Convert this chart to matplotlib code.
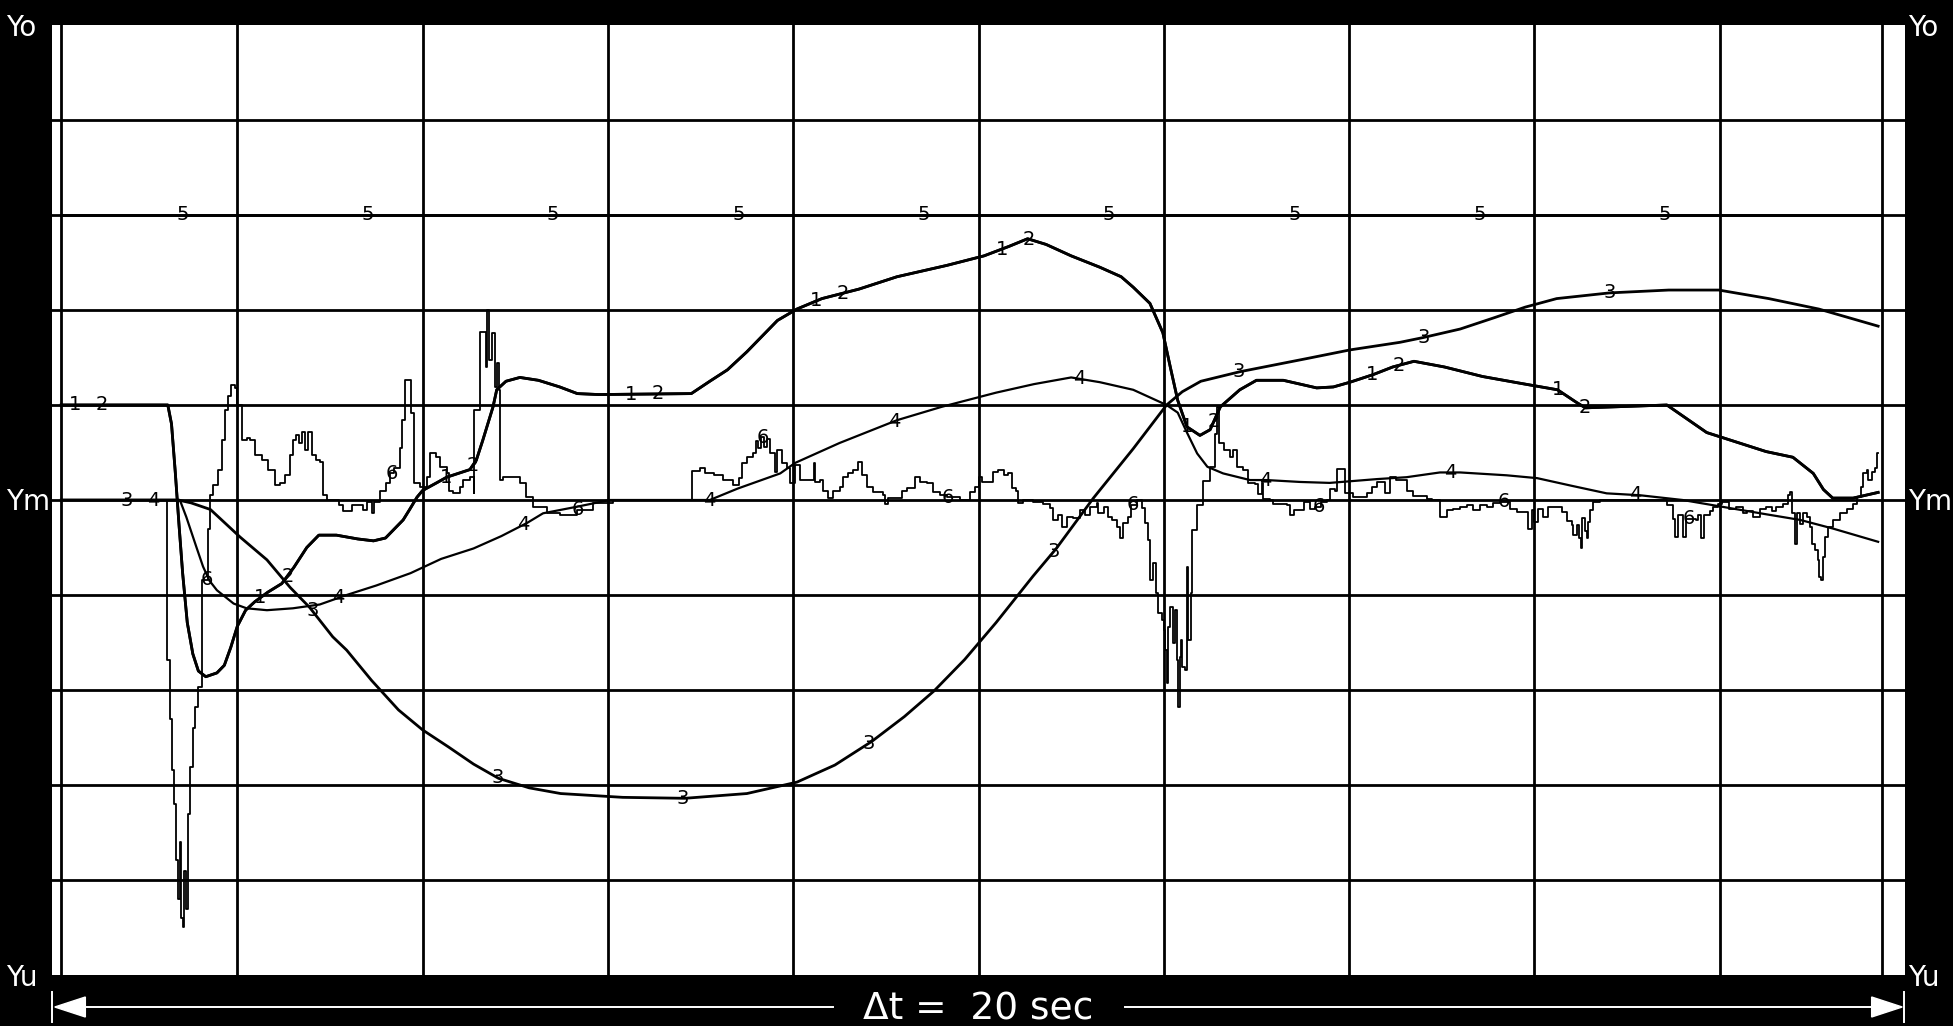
import matplotlib.pyplot as plt
import numpy as np

# time axis in seconds (0..20), values in screen divisions (Ym = 0, Yo = +5, Yu = -5)

# curves 1 and 2 lie on top of each other
t12 = [0.10, 1.25, 1.29, 1.33, 1.37, 1.41, 1.46, 1.52, 1.58, 1.66, 1.78, 1.86, 1.93,
       2.00, 2.09, 2.19, 2.33, 2.48, 2.61, 2.75, 2.88, 3.07, 3.30, 3.47, 3.60, 3.79,
       3.86, 3.94, 4.00, 4.15, 4.26, 4.51, 4.58, 4.65, 4.76, 4.80, 4.90, 5.05, 5.25,
       5.48, 5.67, 5.90, 6.90, 7.10, 7.29, 7.50, 7.83, 8.04, 8.31, 8.71, 9.12, 9.66,
       10.06, 10.33, 10.53, 10.73, 11.00, 11.31, 11.54, 11.67, 11.85, 11.99, 12.07,
       12.15, 12.25, 12.39, 12.50, 12.61, 12.82, 13.00, 13.29, 13.65, 13.83, 14.01,
       14.26, 14.47, 14.70, 15.03, 15.44, 15.84, 16.25, 16.45, 16.55, 17.43, 17.86,
       18.02, 18.50, 18.79, 19.01, 19.12, 19.22, 19.44, 19.71]
y12 = [1.00, 1.00, 0.80, 0.30, -0.25, -0.77, -1.29, -1.62, -1.80, -1.86, -1.82, -1.74, -1.55,
       -1.33, -1.16, -1.07, -0.97, -0.88, -0.71, -0.50, -0.37, -0.37, -0.41, -0.43, -0.40, -0.21,
       -0.10, 0.03, 0.10, 0.18, 0.24, 0.32, 0.42, 0.63, 0.98, 1.16, 1.25, 1.29, 1.26,
       1.19, 1.12, 1.11, 1.12, 1.25, 1.37, 1.56, 1.89, 2.01, 2.12, 2.22, 2.35, 2.47,
       2.57, 2.67, 2.75, 2.69, 2.57, 2.45, 2.35, 2.24, 2.07, 1.76, 1.40,
       1.05, 0.77, 0.68, 0.74, 0.98, 1.16, 1.26, 1.26, 1.18, 1.19, 1.24,
       1.32, 1.40, 1.46, 1.40, 1.30, 1.23, 1.16, 1.03, 0.97, 1.00, 0.71,
       0.66, 0.51, 0.45, 0.28, 0.11, 0.02, 0.02, 0.08]

t3 = [0.10, 1.36, 1.50, 1.71, 2.03, 2.32, 2.57, 2.78, 3.03, 3.18, 3.45, 3.74, 4.00, 4.28,
      4.55, 4.82, 5.15, 5.49, 6.16, 6.83, 7.50, 8.04, 8.45, 8.85, 9.20, 9.52, 9.85, 10.19,
      10.59, 10.84, 11.24, 11.67, 12.03, 12.20, 12.40, 12.82, 13.55, 14.01, 14.55, 14.80,
      15.20, 15.57, 15.90, 16.24, 16.81, 17.45, 17.99, 18.53, 19.07, 19.71]
y3 = [0.00, 0.00, -0.03, -0.10, -0.39, -0.63, -0.92, -1.13, -1.44, -1.58, -1.90, -2.21, -2.42, -2.60,
      -2.78, -2.93, -3.03, -3.09, -3.13, -3.14, -3.09, -2.97, -2.79, -2.54, -2.28, -2.01, -1.68, -1.29,
      -0.80, -0.51, 0.02, 0.54, 1.00, 1.14, 1.25, 1.35, 1.49, 1.58, 1.66, 1.71,
      1.80, 1.92, 2.03, 2.12, 2.18, 2.21, 2.21, 2.12, 2.01, 1.83]

t4 = [0.10, 1.38, 1.45, 1.56, 1.63, 1.70, 1.78, 1.96, 2.10, 2.32, 2.60, 2.89, 3.18, 3.50,
      3.87, 4.20, 4.55, 4.85, 5.13, 5.30, 5.67, 6.02, 7.10, 7.40, 7.86, 8.02, 8.50, 9.12,
      9.60, 10.19, 10.60, 11.00, 11.31, 11.67, 12.03, 12.15, 12.25, 12.36, 12.47, 12.64,
      12.93, 13.11, 13.47, 13.79, 14.30, 14.62, 14.98, 15.20, 15.70, 16.03, 16.40, 16.78,
      17.14, 17.60, 18.02, 18.50, 18.87, 19.22, 19.71]
y4 = [0.00, 0.00, -0.18, -0.50, -0.70, -0.85, -0.95, -1.09, -1.14, -1.16, -1.14, -1.10, -1.00, -0.90,
      -0.77, -0.62, -0.51, -0.38, -0.24, -0.14, -0.07, 0.00, 0.00, 0.12, 0.28, 0.39, 0.60, 0.84,
      0.98, 1.13, 1.22, 1.29, 1.24, 1.16, 1.00, 0.92, 0.71, 0.49, 0.35, 0.28,
      0.21, 0.21, 0.19, 0.18, 0.22, 0.24, 0.29, 0.29, 0.26, 0.23, 0.15, 0.07,
      0.05, 0.00, -0.07, -0.15, -0.21, -0.30, -0.44]

t5 = [0.10, 19.75]
y5 = [3.00, 3.00]

# noisy channel 6, sample-and-hold values
t6 = [0.10, 1.24, 1.27, 1.30, 1.32, 1.34, 1.36, 1.38, 1.39, 1.41, 1.43, 1.45, 1.47, 1.49,
      1.52, 1.54, 1.58, 1.62, 1.68, 1.71, 1.74, 1.79, 1.83, 1.87, 1.90, 1.93, 1.98, 2.00,
      2.05, 2.10, 2.14, 2.19, 2.27, 2.33, 2.41, 2.46, 2.51, 2.57, 2.60, 2.63, 2.67, 2.70,
      2.73, 2.76, 2.81, 2.85, 2.89, 2.92, 2.97, 3.10, 3.14, 3.24, 3.36, 3.40, 3.45, 3.48,
      3.54, 3.60, 3.65, 3.69, 3.76, 3.78, 3.81, 3.87, 3.91, 3.97, 4.05, 4.08, 4.15, 4.19,
      4.26, 4.28, 4.33, 4.40, 4.44, 4.51, 4.55, 4.56, 4.62, 4.68, 4.70, 4.72, 4.75, 4.78,
      4.80, 4.82, 4.84, 4.87, 4.94, 5.05, 5.12, 5.19, 5.34, 5.48, 5.67, 5.84, 6.06, 6.91,
      6.99, 7.05, 7.14, 7.24, 7.35, 7.41, 7.45, 7.50, 7.57, 7.60, 7.62, 7.65, 7.68, 7.72,
      7.75, 7.80, 7.82, 7.88, 7.93, 7.97, 8.02, 8.07, 8.15, 8.22, 8.24, 8.29, 8.32, 8.38,
      8.43, 8.50, 8.54, 8.59, 8.65, 8.70, 8.74, 8.80, 8.86, 8.97, 8.99, 9.02, 9.17, 9.23,
      9.32, 9.37, 9.44, 9.51, 9.58, 9.66, 9.80, 9.91, 9.96, 10.00, 10.04, 10.16, 10.21,
      10.27, 10.32, 10.36, 10.41, 10.43, 10.48, 10.59, 10.70, 10.77, 10.80, 10.86, 10.90,
      10.95, 11.02, 11.10, 11.15, 11.20, 11.28, 11.29, 11.35, 11.40, 11.44, 11.49, 11.53,
      11.56, 11.61, 11.65, 11.71, 11.76, 11.80, 11.83, 11.85, 11.88, 11.92, 11.94, 11.98,
      12.00, 12.01, 12.03, 12.05, 12.07, 12.10, 12.12, 12.14, 12.15, 12.17, 12.19, 12.20,
      12.23, 12.25, 12.26, 12.29, 12.30, 12.36, 12.42, 12.50, 12.55, 12.57, 12.60, 12.65,
      12.71, 12.75, 12.79, 12.86, 12.91, 12.98, 13.02, 13.06, 13.07, 13.15, 13.18, 13.33,
      13.36, 13.40, 13.51, 13.58, 13.63, 13.70, 13.76, 13.79, 13.85, 13.87, 13.96, 14.04,
      14.19, 14.25, 14.30, 14.39, 14.44, 14.51, 14.62, 14.69, 14.84, 14.89, 14.98, 15.06,
      15.12, 15.20, 15.27, 15.34, 15.41, 15.49, 15.55, 15.63, 15.74, 15.81, 15.90, 15.93,
      15.97, 16.00, 16.04, 16.09, 16.15, 16.30, 16.35, 16.41, 16.42, 16.46, 16.48, 16.50,
      16.51, 16.55, 16.57, 16.58, 16.60, 16.63, 16.71, 17.43, 17.50, 17.52, 17.55, 17.60,
      17.64, 17.74, 17.77, 17.80, 17.83, 17.90, 17.93, 17.98, 18.03, 18.10, 18.18, 18.25,
      18.30, 18.36, 18.43, 18.50, 18.56, 18.61, 18.68, 18.74, 18.76, 18.78, 18.81, 18.83,
      18.87, 18.90, 18.94, 18.98, 19.00, 19.03, 19.06, 19.07, 19.09, 19.11, 19.12, 19.14,
      19.17, 19.22, 19.30, 19.37, 19.44, 19.48, 19.53, 19.55, 19.59, 19.60, 19.64, 19.68,
      19.70, 19.71]
y6 = [0.00, -1.68, -2.30, -2.84, -3.20, -3.79, -4.20, -3.60, -4.40, -4.49, -3.90, -4.30, -3.30, -2.81,
      -2.40, -2.18, -1.97, -0.84, -0.30, 0.05, 0.16, 0.32, 0.63, 0.95, 1.10, 1.21, 1.18, 1.00,
      0.63, 0.65, 0.63, 0.47, 0.42, 0.32, 0.16, 0.18, 0.26, 0.47, 0.63, 0.68, 0.60, 0.72,
      0.53, 0.72, 0.47, 0.42, 0.40, 0.05, 0.00, -0.05, -0.12, -0.05, -0.10, -0.02, -0.14, -0.02,
      0.10, 0.18, 0.28, 0.34, 0.55, 0.84, 1.26, 0.92, 0.18, 0.14, 0.24, 0.49, 0.45, 0.35,
      0.28, 0.10, 0.07, 0.14, 0.21, 0.24, 0.07, 0.95, 1.77, 1.40, 2.00, 1.47, 1.76, 1.19,
      1.44, 1.16, 0.21, 0.24, 0.24, 0.18, 0.03, -0.07, -0.14, -0.16, -0.10, -0.03, 0.00, 0.31,
      0.34, 0.28, 0.26, 0.21, 0.16, 0.23, 0.39, 0.45, 0.49, 0.62, 0.55, 0.66, 0.56, 0.64,
      0.49, 0.30, 0.53, 0.39, 0.34, 0.18, 0.37, 0.21, 0.21, 0.39, 0.19, 0.21, 0.10, 0.02,
      0.10, 0.14, 0.24, 0.28, 0.32, 0.40, 0.26, 0.14, 0.08, 0.05, -0.04, 0.02, 0.10, 0.13,
      0.24, 0.19, 0.18, 0.08, 0.05, 0.03, 0.00, 0.08, 0.14, 0.24, 0.19, 0.30, 0.32,
      0.26, 0.28, 0.13, 0.10, -0.03, 0.00, -0.02, -0.04, -0.08, -0.21, -0.16, -0.28,
      -0.18, -0.19, -0.10, -0.16, -0.07, -0.03, -0.14, -0.07, -0.18, -0.21, -0.28, -0.40,
      -0.24, -0.18, -0.05, 0.00, -0.08, -0.24, -0.42, -0.84, -0.66, -0.98, -1.19, -1.26,
      -1.37, -1.58, -1.93, -1.34, -1.13, -1.51, -1.16, -1.68, -2.18, -1.65, -1.47, -1.76,
      -1.79, -0.70, -1.47, -0.98, -0.32, -0.05, 0.20, 0.35, 0.70, 0.98, 0.60, 0.53,
      0.45, 0.53, 0.35, 0.32, 0.18, 0.17, 0.06, 0.18, 0.01, 0.00, -0.04, -0.05,
      -0.16, -0.10, -0.02, -0.09, -0.07, -0.02, 0.00, 0.12, 0.10, 0.33, 0.07, 0.03,
      0.07, 0.14, 0.19, 0.07, 0.24, 0.21, 0.10, 0.04, 0.01, 0.00, -0.18, -0.10,
      -0.09, -0.07, -0.05, -0.10, -0.05, -0.07, -0.03, -0.02, -0.09, -0.13, -0.13, -0.30,
      -0.10, -0.23, -0.09, -0.18, -0.07, -0.13, -0.22, -0.26, -0.37, -0.26, -0.40, -0.50,
      -0.19, -0.33, -0.40, -0.23, -0.10, -0.02, 0.00, -0.05, -0.20, -0.39, -0.16, -0.39,
      -0.20, -0.21, -0.16, -0.40, -0.16, -0.12, -0.07, -0.04, -0.02, -0.09, -0.07, -0.14,
      -0.12, -0.18, -0.09, -0.07, -0.12, -0.07, -0.04, 0.05, 0.08, -0.14, -0.46, -0.14,
      -0.25, -0.14, -0.18, -0.28, -0.46, -0.53, -0.63, -0.81, -0.84, -0.70, -0.60, -0.39,
      -0.28, -0.21, -0.14, -0.09, -0.04, 0.03, 0.14, 0.28, 0.32, 0.21, 0.29, 0.34,
      0.49, 0.49]

# curve labels repeat every 2 s, each channel starting a little later
label_names = ["1", "2", "3", "4", "5", "6"]
label_start = [0.25, 0.54, 0.81, 1.09, 1.41, 1.67]

grid_x = [0.1, 2, 4, 6, 8, 10, 12, 14, 16, 18, 19.75]
grid_y = [-4, -3, -2, -1, 0, 1, 2, 3, 4]

W, H = 1953, 1026
fig = plt.figure(figsize=(W / 100, H / 100), dpi=100, facecolor="black")
ax = fig.add_axes([52 / W, 51 / H, 1853 / W, 950 / H])
ax.set_facecolor("white")
ax.set_xlim(0, 20)
ax.set_ylim(-5, 5)
ax.set_xticks([])
ax.set_yticks([])
for s in ax.spines.values():
    s.set_visible(False)

for y in grid_y:
    ax.axhline(y, color="black", lw=2.0, zorder=1)
for x in grid_x:
    ax.axvline(x, color="black", lw=2.0, zorder=1)

ax.plot(t12, y12, color="black", lw=2.0, zorder=3)
ax.plot(t12, y12, color="black", lw=2.0, zorder=3)
ax.plot(t3, y3, color="black", lw=2.0, zorder=3)
ax.plot(t4, y4, color="black", lw=1.6, zorder=3)
ax.plot(t5, y5, color="black", lw=2.0, zorder=3)
ax.plot(t6, y6, color="black", lw=1.3, drawstyle="steps-post", zorder=3)

curves = [(t12, y12), (t12, y12), (t3, y3), (t4, y4), (t5, y5), (t6, y6)]
for (tt, yy), name, start in zip(curves, label_names, label_start):
    for k in range(9):
        tl = start + 2 * k
        if name == "6":
            yl = yy[np.searchsorted(tt, tl, side="right") - 1]
        else:
            yl = np.interp(tl, tt, yy)
        ax.text(tl, yl, name, ha="center", va="center", fontsize=14,
                color="black", zorder=4)

# side labels
for txt, yb in [("Yo", 36), ("Ym", 510), ("Yu", 986)]:
    fig.text(6 / W, 1 - yb / H, txt, color="white", fontsize=20,
             ha="left", va="baseline")
    fig.text(1908 / W, 1 - yb / H, txt, color="white", fontsize=20,
             ha="left", va="baseline")

# time span arrow below the screen
trans = ax.get_xaxis_transform()
ya = -32 / 950
hh = 10 / 950
bar = 15 / 950
kw = dict(transform=trans, clip_on=False, color="white")
ax.plot([0.36, 8.43], [ya, ya], lw=1.4, **kw)
ax.plot([11.58, 19.64], [ya, ya], lw=1.4, **kw)
ax.fill([0.03, 0.36, 0.36], [ya, ya + hh, ya - hh], **kw)
ax.fill([19.97, 19.64, 19.64], [ya, ya + hh, ya - hh], **kw)
ax.plot([0, 0], [ya - bar, ya + bar], lw=1.4, **kw)
ax.plot([19.99, 19.99], [ya - bar, ya + bar], lw=1.4, **kw)
fig.text(0.501, 1 - 1019 / H, "\u0394t =  20 sec", color="white", fontsize=27,
         ha="center", va="baseline")

fig.savefig("out.png", dpi=100, facecolor="black")
